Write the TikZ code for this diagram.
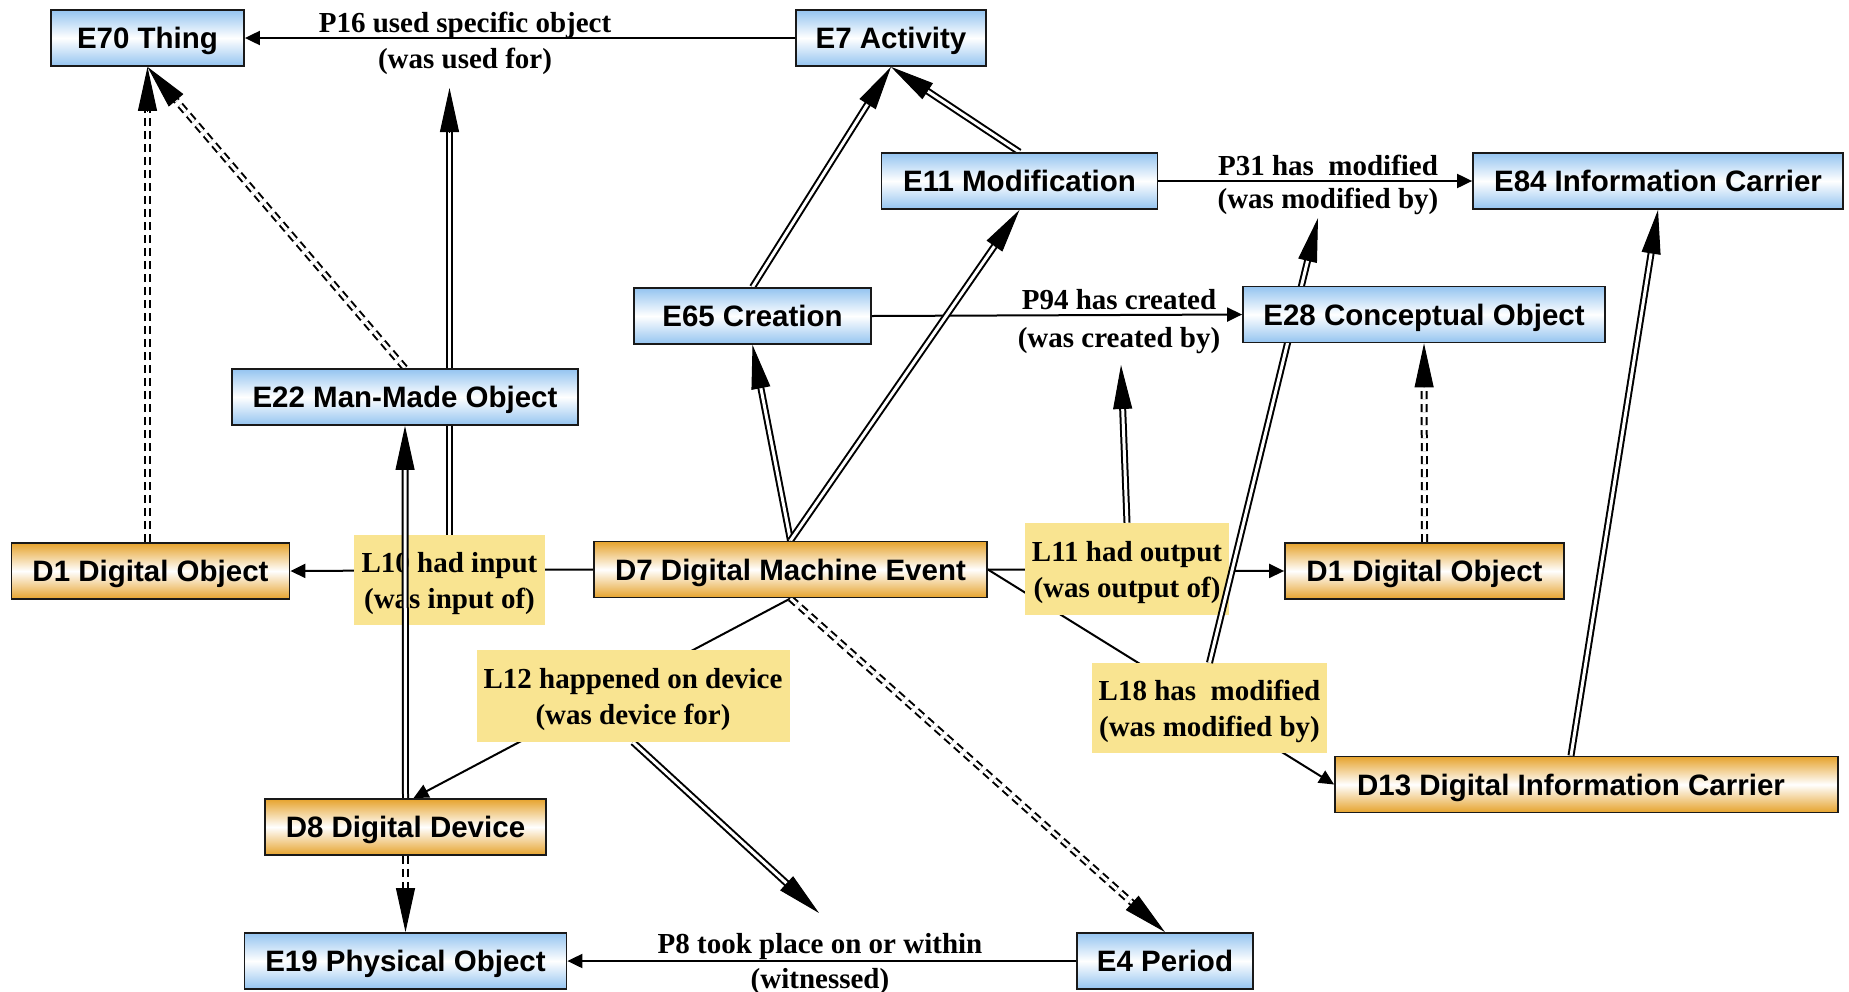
\documentclass[tikz,border=0pt]{standalone}
\usepackage{fontspec}
\setmainfont{Liberation Serif}
\setsansfont{Liberation Sans}
\usetikzlibrary{arrows.meta,calc}
\definecolor{eblue}{RGB}{148,196,240}
\definecolor{dorange}{RGB}{230,163,45}
\definecolor{lyellow}{RGB}{249,228,145}
\pgfdeclarelayer{lines}\pgfdeclarelayer{labels}\pgfdeclarelayer{over}
\pgfsetlayers{lines,labels,over,main}
\newcommand\lstrut{\rule{0pt}{28pt}}
\tikzset{
 boxbase/.style={draw=black!90, line width=1.8pt, minimum height=56pt, inner sep=0pt, text height=21pt, text depth=0pt, font=\sffamily\bfseries\fontsize{29.5}{32}\selectfont},
 ent/.style={boxbase, top color=eblue, bottom color=eblue, middle color=white, minimum width=#1},
 dig/.style={boxbase, top color=dorange, bottom color=dorange, middle color=white, minimum width=#1},
 lab/.style={fill=lyellow, inner sep=0pt, align=center, font=\bfseries\fontsize{29}{36}\selectfont, minimum width=#1},
 ptxt/.style={anchor=base, inner sep=0pt, font=\bfseries\fontsize{29}{32}\selectfont},
 rel/.style={line width=2pt, -{Triangle[length=15pt,width=14pt]}},
 dbl/.style={double, line width=2pt, double distance=3pt},
 dsh/.style={dash pattern=on 8pt off 5pt},
 bighead/.style={line width=1pt, -{Triangle[length=44pt,width=19pt]}},
}
\newcommand\dblarrow[3][]{%
 \draw[dbl,#1,shorten >=42pt] (#2) -- (#3);
 \draw[bighead] ($(#3)!44pt!(#2)$) -- (#3);}
\begin{document}
\begin{tikzpicture}[x=1pt,y=-1pt]
\useasboundingbox (0,0) rectangle (1849,991);
% entity boxes
\node[ent=193pt] (E70) at (147.5,38) {E70 Thing};
\node[ent=190pt] (E7) at (891,38) {E7 Activity};
\node[ent=276pt] (E11) at (1019.5,181) {E11 Modification};
\node[ent=370pt] (E84) at (1658,181) {E84 Information Carrier};
\node[ent=237pt] (E65) at (752.5,316) {E65 Creation};
\node[ent=362pt] (E28) at (1424,314.5) {E28 Conceptual Object};
\node[ent=346pt] (E22) at (405,397) {E22 Man-Made Object};
\node[dig=278pt] (D1L) at (150.5,571) {D1 Digital Object};
\node[dig=393pt] (D7) at (790.5,569.5) {D7 Digital Machine Event};
\node[dig=279pt] (D1R) at (1424.5,571) {D1 Digital Object};
\node[dig=503pt] (D13) at (1586.5,784.5) {\hspace*{-31pt}D13 Digital Information Carrier};
\node[dig=281pt] (D8) at (405.5,827) {D8 Digital Device};
\node[ent=322pt] (E19) at (405.5,961) {E19 Physical Object};
\node[ent=176pt] (E4) at (1165,961) {E4 Period};
% link labels
\begin{pgfonlayer}{labels}
\node[lab=191pt, minimum height=90pt] (L10) at (449.5,580) {\lstrut L10 had input\\(was input of)};
\node[lab=204pt, minimum height=92pt] (L11) at (1127,569) {\lstrut L11 had output\\(was output of)};
\node[lab=313pt, minimum height=92pt] (L12) at (633,696) {\lstrut L12 happened on device\\(was device for)};
\node[lab=235pt, minimum height=90pt] (L18) at (1209.5,708) {\lstrut L18 has\ \ modified\\(was modified by)};
\end{pgfonlayer}
% property texts
\node[ptxt] (P16a) at (465,32) {P16 used specific object};
\node[ptxt] (P16b) at (465,68) {(was used for)};
\node[ptxt] (P31a) at (1328,175) {P31 has\ \ modified};
\node[ptxt] (P31b) at (1328,208) {(was modified by)};
\node[ptxt] (P94a) at (1119,309) {P94 has created};
\node[ptxt] (P94b) at (1119,347) {(was created by)};
\node[ptxt] (P8a) at (820,953) {P8 took place on or within};
\node[ptxt] (P8b) at (820,988) {(witnessed)};
\coordinate (P16in) at (449.5,88);
\coordinate (P94in) at (1121,365);
\coordinate (P31in) at (1318,218);
\coordinate (P8in) at (819,913);
\coordinate (D1Ltop) at (E70.south |- D1L.north);
\coordinate (D13top) at ([xshift=-15.5pt]D13.north);
\begin{pgfonlayer}{lines}
\draw[rel] (E7.west) -- (E70.east);
\draw[rel] (E11.east) -- (E84.west);
\draw[rel] (E65.east) -- (E28.west);
\draw[rel] (D7.west) -- (D1L.east);
\draw[rel] (D7.east) -- (D1R.west);
\draw[rel] (D7.east) -- (D13.west);
\draw[rel] (D7.south) -- ([xshift=8pt]D8.north);
\draw[rel] (E4.west) -- (E19.east);
\dblarrow{E65.north}{E7.south}
\dblarrow{E11.north}{E7.south}
\dblarrow{D7.north}{E65.south}
\dblarrow{D7.north}{E11.south}
\dblarrow{L10.north}{P16in}
\dblarrow{L11.north}{P94in}
\dblarrow{L12.south}{P8in}
\dblarrow{D13top}{E84.south}
\dblarrow[dsh]{D7.south}{E4.north}
\dblarrow[dsh]{D1Ltop}{E70.south}
\dblarrow[dsh]{E22.north}{E70.south}
\dblarrow[dsh]{D8.south}{E19.north}
\dblarrow[dsh]{D1R.north}{E28.south}
\end{pgfonlayer}
\begin{pgfonlayer}{over}
\dblarrow{D8.north}{E22.south}
\dblarrow{L18.north}{P31in}
\end{pgfonlayer}
\end{tikzpicture}
\end{document}
